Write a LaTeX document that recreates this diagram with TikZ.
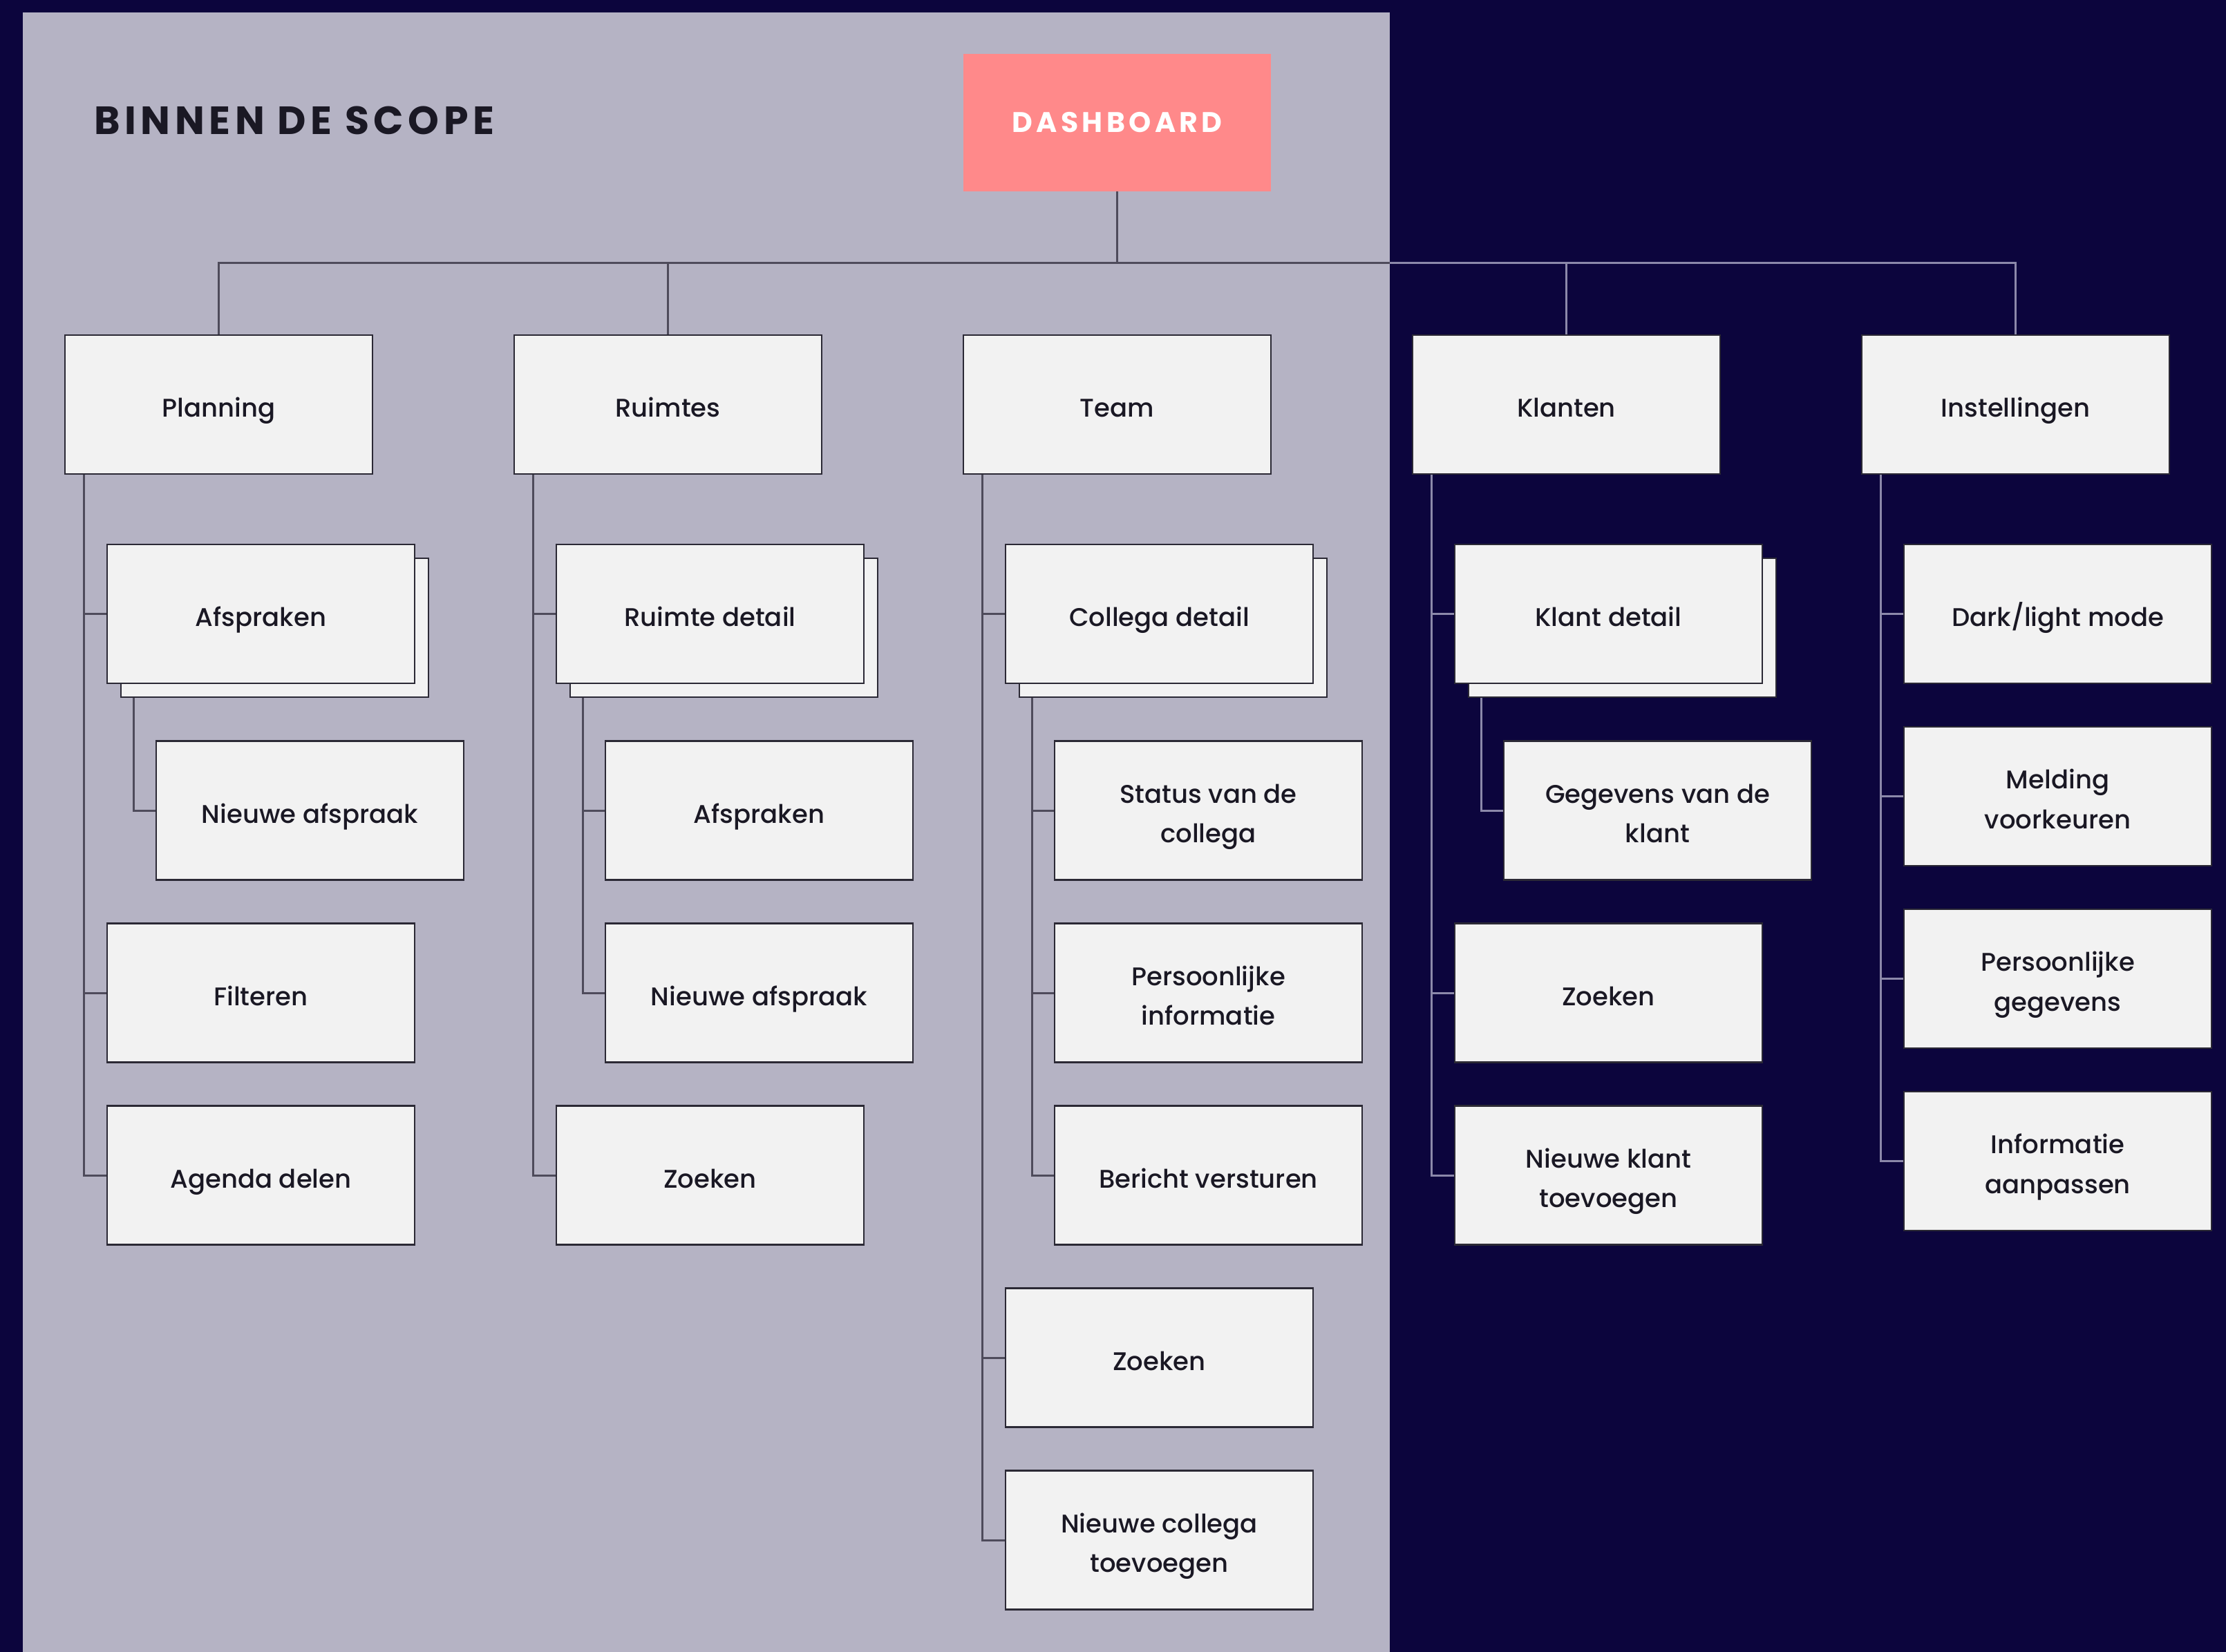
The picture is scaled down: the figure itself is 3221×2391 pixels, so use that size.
\documentclass[tikz,border=0pt]{standalone}
\usepackage{fontspec}
\setmainfont{Poppins}
\newfontfamily\medfont{Poppins Medium}
\usetikzlibrary{calc}

\definecolor{navy}{HTML}{0C053D}
\definecolor{scopebg}{HTML}{B5B3C4}
\definecolor{dashpink}{HTML}{FF898A}
\definecolor{boxfill}{HTML}{F2F2F2}
\definecolor{boxline}{HTML}{2B2935}
\definecolor{textdark}{HTML}{1A1824}
\definecolor{linkin}{HTML}{4E4B5B}
\definecolor{linkout}{HTML}{8C89AA}

\newcommand{\labelfont}{\medfont\fontsize{18.5}{28.75}\selectfont}
% fixed top and bottom of each label block so every label sits at the same height
\newcommand{\topstrut}{\rule{0pt}{23.5pt}}
\newcommand{\botstrut}{\rule[-5.5pt]{0pt}{5.5pt}}

\tikzset{
  card/.style={draw=boxline, fill=boxfill, line width=1.4pt,
    minimum width=222.5pt, minimum height=100.5pt, inner sep=0pt,
    align=center, text=textdark, font=\labelfont,
    execute at begin node=\topstrut, execute at end node=\botstrut},
  backcard/.style={card},
  linkL/.style={draw=linkin, line width=1.5pt},
  linkD/.style={draw=linkout, line width=1.5pt},
}

\begin{document}
\begin{tikzpicture}[x=0.5pt, y=-0.5pt]
  % canvas and the in-scope panel
  \fill[navy] (0,0) rectangle (3221,2391);
  \useasboundingbox (0,0) rectangle (3221,2391);
  \fill[scopebg] (33,18) rectangle (2011,2391);

  % heading
  \node[anchor=base west, inner sep=0pt, text=textdark,
        font=\fontsize{28.5}{32}\selectfont\bfseries\addfontfeature{LetterSpace=11.5}]
        (title) at (136,195) {BINNEN DE SCOPE};

  % root
  \node[fill=dashpink, minimum width=222.5pt, minimum height=99.5pt, inner sep=0pt,
        text=white, font=\fontsize{20.5}{24}\selectfont\bfseries\addfontfeature{LetterSpace=13}]
        (dash) at (1616.5,177.5) {DASHBOARD};

  % top level sections
  \node[card] (plan)  at (316.5,585.5)  {Planning};
  \node[card] (ruim)  at (966.5,585.5)  {Ruimtes};
  \node[card] (team)  at (1616.5,585.5) {Team};
  \node[card] (klant) at (2266.5,585.5) {Klanten};
  \node[card] (inst)  at (2916.5,585.5) {Instellingen};

  % Planning
  \node[backcard] (pl-afs-b) at (397.5,908.5) {};
  \node[card] (pl-afs)    at (377.5,888.5) {Afspraken};
  \node[card] (pl-nieuw)  at (448.5,1173)  {Nieuwe afspraak};
  \node[card] (pl-filt)   at (377.5,1437)  {Filteren};
  \node[card] (pl-agenda) at (377.5,1701)  {Agenda delen};

  % Ruimtes
  \node[backcard] (ru-det-b) at (1047.5,908.5) {};
  \node[card] (ru-det)   at (1027.5,888.5) {Ruimte detail};
  \node[card] (ru-afs)   at (1098.5,1173)  {Afspraken};
  \node[card] (ru-nieuw) at (1098.5,1437)  {Nieuwe afspraak};
  \node[card] (ru-zoek)  at (1027.5,1701)  {Zoeken};

  % Team
  \node[backcard] (te-det-b) at (1697.5,908.5) {};
  \node[card] (te-det)     at (1677.5,888.5) {Collega detail};
  \node[card] (te-status)  at (1748.5,1173)  {\topstrut Status van de\\collega};
  \node[card] (te-pers)    at (1748.5,1437)  {\topstrut Persoonlijke\\informatie};
  \node[card] (te-bericht) at (1748.5,1701)  {Bericht versturen};
  \node[card] (te-zoek)    at (1677.5,1965)  {Zoeken};
  \node[card] (te-nieuw)   at (1677.5,2229)  {\topstrut Nieuwe collega\\toevoegen};

  % Klanten
  \node[backcard] (kl-det-b) at (2347.5,908.5) {};
  \node[card] (kl-det)   at (2327.5,888.5) {Klant detail};
  \node[card] (kl-geg)   at (2398.5,1173)  {\topstrut Gegevens van de\\klant};
  \node[card] (kl-zoek)  at (2327.5,1437)  {Zoeken};
  \node[card] (kl-nieuw) at (2327.5,1701)  {\topstrut Nieuwe klant\\toevoegen};

  % Instellingen
  \node[card] (in-mode) at (2977.5,888.5)  {Dark/light mode};
  \node[card] (in-meld) at (2977.5,1152.5) {\topstrut Melding\\voorkeuren};
  \node[card] (in-pers) at (2977.5,1416.5) {\topstrut Persoonlijke\\gegevens};
  \node[card] (in-info) at (2977.5,1680.5) {\topstrut Informatie\\aanpassen};

  % bus from the root to the sections
  \coordinate (bus) at (0,381);
  \coordinate (edge) at (2011,381);
  \draw[linkL] (dash.south) -- (dash.south |- bus);
  \draw[linkL] (plan.north) -- (plan.north |- bus) -- (edge);
  \draw[linkD] (edge) -- (inst.north |- bus) -- (inst.north);
  \draw[linkL] (ruim.north) -- (ruim.north |- bus);
  \draw[linkD] (klant.north) -- (klant.north |- bus);

  % trunks below each section
  \coordinate (plT)  at ([xshift=14.5pt]plan.south west);
  \coordinate (ruT)  at ([xshift=14.5pt]ruim.south west);
  \coordinate (teT)  at ([xshift=14.5pt]team.south west);
  \coordinate (klT)  at ([xshift=14.5pt]klant.south west);
  \coordinate (inT)  at ([xshift=14.5pt]inst.south west);

  \foreach \c in {pl-afs, pl-filt, pl-agenda} \draw[linkL] (plT) |- (\c.west);
  \foreach \c in {ru-det, ru-zoek} \draw[linkL] (ruT) |- (\c.west);
  \foreach \c in {te-det, te-zoek, te-nieuw} \draw[linkL] (teT) |- (\c.west);
  \foreach \c in {kl-det, kl-zoek, kl-nieuw} \draw[linkD] (klT) |- (\c.west);
  \foreach \c in {in-mode, in-meld, in-pers, in-info} \draw[linkD] (inT) |- (\c.west);

  % sub trunks below the stacked detail cards
  \coordinate (plS) at ([xshift=10pt]pl-afs-b.south west);
  \coordinate (ruS) at ([xshift=10pt]ru-det-b.south west);
  \coordinate (teS) at ([xshift=10pt]te-det-b.south west);
  \coordinate (klS) at ([xshift=10pt]kl-det-b.south west);

  \draw[linkL] (plS) |- (pl-nieuw.west);
  \foreach \c in {ru-afs, ru-nieuw} \draw[linkL] (ruS) |- (\c.west);
  \foreach \c in {te-status, te-pers, te-bericht} \draw[linkL] (teS) |- (\c.west);
  \draw[linkD] (klS) |- (kl-geg.west);
\end{tikzpicture}
\end{document}
